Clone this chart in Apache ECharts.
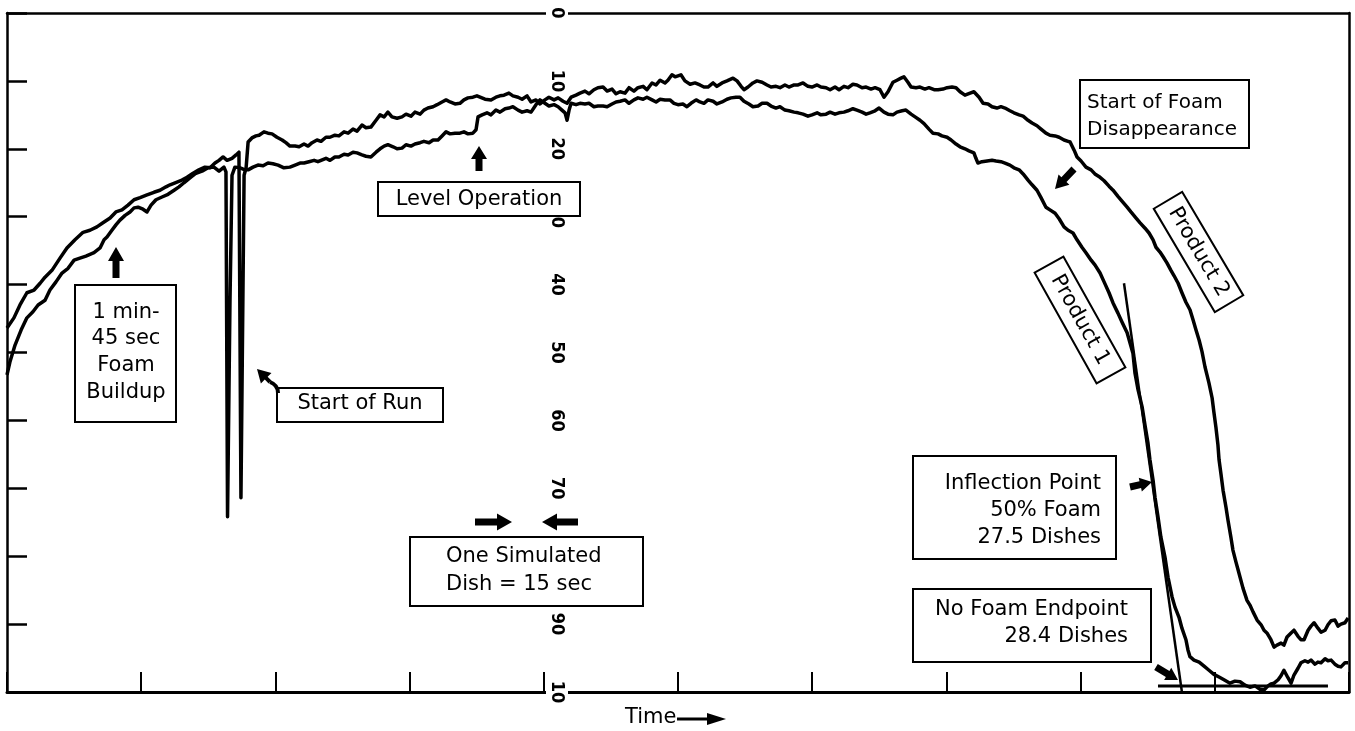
<!DOCTYPE html>
<html>
<head>
<meta charset="utf-8">
<script src="https://cdn.jsdelivr.net/npm/echarts@6/dist/echarts.min.js"></script>
<style>
html,body{margin:0;padding:0;background:#fff;}
#chart{width:1355px;height:731px;}
</style>
</head>
<body>
<div id="chart"></div>
<script>
// Foam level (0 = top of scale, 100 = bottom) vs. time in seconds
const yTickLabels = ['0','10','20','30','40','50','60','70','80','90','10'];
const timeTickInterval = 60; // one chart division = 1 minute = 4 dishes

const product1 = [
[0,53.3],[1.3,51.4],[3.6,48.9],[6.3,46.7],[8.9,44.9],[11.6,44.0],[13.9,43.0],[17.0,42.3],[19.2,40.8],[21.9,39.6],
[24.6,38.3],[27.3,37.6],[30.0,36.4],[32.6,36.1],[35.3,35.8],[38.9,35.3],[41.6,34.6],[43.4,33.4],[44.7,33.0],[46.9,32.0],
[48.7,31.2],[50.5,30.5],[52.8,29.8],[55.0,29.3],[56.8,28.7],[58.6,28.6],[60.8,28.9],[62.6,29.3],[64.4,28.3],[66.6,27.5],
[69.3,27.1],[72.0,26.7],[74.7,26.1],[76.9,25.6],[79.1,25.0],[81.8,24.3],[84.5,23.6],[87.2,23.3],[89.9,22.8],[92.5,22.7],
[94.8,23.3],[97.0,22.7],[97.9,23.4],[98.6,74.2],[99.7,42.3],[100.6,23.9],[101.9,22.7],[104.2,22.8],[106.4,23.1],[107.8,23.1],
[110.0,22.7],[112.2,22.4],[114.5,22.5],[116.7,22.1],[118.9,22.2],[121.2,22.4],[123.8,22.8],[126.5,22.7],[128.8,22.4],[131.0,22.1],
[132.8,22.1],[135.0,21.9],[137.3,21.7],[139.0,21.9],[140.4,21.7],[142.6,21.4],[144.4,21.7],[146.6,21.2],[148.4,21.2],[150.7,20.8],
[152.5,20.9],[154.7,20.5],[156.5,20.6],[158.7,20.9],[160.5,21.1],[162.7,21.2],[165.0,20.5],[166.8,20.0],[168.6,19.6],[170.3,19.4],
[172.6,19.7],[174.4,20.0],[176.6,19.9],[178.4,19.4],[180.6,19.6],[182.4,19.3],[184.7,19.1],[186.4,18.9],[188.7,19.1],[190.5,18.7],
[192.7,18.7],[194.5,18.1],[196.3,17.5],[198.1,17.8],[200.3,17.7],[202.5,17.7],[204.3,17.5],[206.1,17.8],[208.3,17.7],[209.7,17.2],
[210.6,15.3],[212.4,15.0],[214.6,14.7],[216.4,15.0],[218.6,14.3],[220.4,14.6],[222.7,14.1],[224.4,14.0],[226.2,13.8],[228.5,14.3],
[230.3,14.6],[232.5,14.4],[234.3,14.6],[236.5,13.5],[238.3,12.8],[240.5,13.3],[242.3,13.7],[244.6,13.5],[246.4,13.8],[248.1,14.3],
[249.5,14.7],[250.4,15.8],[251.3,14.3],[252.2,13.3],[254.4,13.5],[256.2,13.3],[258.4,13.4],[260.2,13.3],[262.4,13.8],[264.2,13.7],
[266.5,13.7],[268.3,13.8],[270.5,13.4],[272.3,13.1],[274.1,13.0],[276.3,12.8],[278.1,13.3],[280.3,12.8],[282.1,12.5],[284.4,12.7],
[286.1,12.4],[288.4,12.8],[290.2,13.1],[292.0,12.7],[294.2,12.8],[296.4,12.8],[298.2,13.3],[300.0,13.5],[302.2,13.4],[304.0,13.8],
[305.8,13.3],[308.1,12.8],[309.8,13.1],[311.6,13.3],[313.4,12.8],[315.7,13.0],[317.4,13.4],[319.7,13.1],[321.9,12.7],[323.7,12.5],
[325.9,12.4],[327.7,12.4],[329.5,13.0],[331.7,13.4],[333.5,13.8],[335.8,13.7],[337.6,13.3],[339.8,13.3],[341.6,13.7],[343.8,14.0],
[345.6,13.8],[347.8,14.3],[349.6,14.4],[351.9,14.6],[353.7,14.7],[355.9,14.9],[358.1,15.2],[359.9,15.0],[362.2,14.7],[363.9,15.0],
[366.2,14.9],[368.0,14.6],[370.2,14.9],[372.0,14.7],[374.2,14.6],[376.0,14.4],[378.2,14.1],[380.0,14.3],[382.3,14.6],[384.1,14.9],
[385.8,14.7],[388.1,14.4],[389.9,14.0],[392.1,14.6],[393.9,14.9],[396.1,15.0],[397.9,14.6],[400.2,14.4],[401.9,14.3],[404.2,14.9],
[406.0,15.3],[408.2,15.8],[410.0,16.3],[412.2,17.1],[414.0,17.7],[416.3,17.8],[418.0,18.1],[420.3,18.3],[422.1,18.7],[424.3,19.3],
[426.1,19.7],[428.3,20.0],[430.1,20.3],[432.3,20.6],[433.2,21.4],[434.1,22.1],[435.9,21.9],[438.2,21.8],[440.4,21.7],[442.2,21.8],
[444.4,21.9],[446.2,22.1],[448.4,22.4],[450.2,22.8],[452.5,23.1],[454.3,23.7],[456.5,24.6],[458.3,25.3],[460.5,26.1],[462.3,27.2],
[464.5,28.6],[466.3,29.0],[468.6,29.5],[470.4,30.3],[472.6,31.5],[474.4,32.0],[476.6,32.4],[478.4,33.4],[480.6,34.5],[482.4,35.3],
[484.7,36.4],[486.4,37.1],[488.7,38.3],[490.5,39.6],[492.7,41.2],[494.5,42.7],[496.7,44.2],[498.5,45.5],[500.8,47.1],[502.1,48.6],
[503.4,50.1],[504.3,53.0],[505.7,55.5],[507.5,58.0],[508.8,60.7],[510.1,63.3],[511.0,65.8],[512.4,68.8],[513.3,71.4],[514.6,74.2],
[515.9,77.2],[517.7,80.1],[519.1,83.1],[520.9,86.0],[522.2,87.5],[524.0,89.0],[525.3,90.6],[527.1,92.3],[528.0,93.8],[528.9,94.8],
[530.7,95.3],[533.0,95.6],[535.2,96.2],[537.4,96.8],[539.6,97.4],[541.9,97.8],[544.1,98.2],[546.8,98.7],[549.0,98.4],[551.3,98.5],
[553.5,99.0],[555.7,99.3],[558.0,99.1],[560.2,99.6],[562.0,99.7],[563.8,99.1],[565.1,98.8],[566.5,98.7],[568.3,98.2],[569.6,97.6],
[570.9,96.8],[572.7,97.9],[574.1,98.7],[575.4,97.5],[577.2,96.5],[578.5,95.7],[580.3,95.4],[581.7,95.6],[583.0,95.3],[584.8,95.9],
[586.1,95.6],[587.5,95.7],[589.3,95.1],[590.6,95.4],[592.0,95.3],[593.7,95.9],[595.1,96.2],[596.4,96.3],[598.2,95.7],[599.6,95.7]
];

const product2 = [
[0,46.4],[3.1,44.9],[5.8,43.0],[8.9,41.2],[12.1,40.8],[14.8,39.8],[17.0,38.9],[20.1,37.9],[23.7,36.1],[26.8,34.6],
[30.4,33.4],[34.0,32.3],[37.1,32.0],[40.2,31.5],[42.9,30.9],[46.1,30.2],[48.7,29.3],[51.4,29.0],[54.1,28.3],[56.8,27.5],
[59.5,27.2],[62.6,26.8],[65.7,26.4],[68.4,26.1],[71.1,25.6],[72.9,25.3],[76.0,24.9],[78.2,24.6],[80.5,24.2],[83.2,23.6],
[85.8,23.1],[88.5,22.7],[90.8,22.8],[93.0,22.1],[94.8,21.7],[96.6,21.2],[98.4,21.7],[100.6,21.4],[102.4,20.9],[103.7,20.5],
[104.6,71.4],[106.0,23.9],[106.9,22.8],[107.8,19.0],[109.5,18.4],[111.3,18.1],[112.7,18.0],[114.9,17.5],[116.7,17.7],[118.5,17.8],
[120.7,18.3],[123.0,18.7],[124.7,19.1],[126.5,19.6],[128.8,19.6],[130.6,19.7],[132.8,19.3],[134.6,19.6],[136.4,19.1],[138.6,18.7],
[140.4,18.9],[142.6,18.3],[144.4,18.3],[146.6,18.0],[148.4,18.1],[150.7,17.5],[152.5,17.7],[154.7,17.1],[156.5,17.4],[158.7,16.5],
[160.5,16.9],[162.7,16.8],[165.0,15.8],[166.8,15.0],[168.6,15.3],[170.3,14.6],[172.1,15.3],[174.4,15.5],[176.6,15.3],[178.4,14.9],
[180.6,15.2],[182.4,14.6],[184.7,14.9],[186.4,14.3],[188.2,14.0],[190.5,13.8],[192.3,13.5],[194.5,13.1],[196.3,12.8],[198.1,13.1],
[200.3,13.4],[202.5,13.3],[204.3,12.8],[206.1,12.5],[208.3,12.4],[210.1,12.2],[211.5,12.4],[213.7,12.7],[216.4,12.8],[218.6,12.4],
[220.4,12.2],[222.2,12.1],[224.4,11.8],[226.2,12.2],[228.5,12.4],[230.3,12.7],[232.5,12.2],[234.3,13.1],[236.5,12.8],[238.3,13.4],
[240.5,12.8],[242.3,12.4],[244.6,12.8],[246.4,12.5],[248.6,13.0],[250.4,13.3],[252.2,12.4],[254.4,12.1],[256.2,11.8],[258.4,11.5],
[260.2,11.9],[262.4,11.3],[264.2,11.0],[266.5,10.9],[268.3,11.5],[270.5,11.2],[272.3,11.9],[274.1,11.6],[276.3,11.8],[278.1,11.0],
[280.3,11.5],[282.1,11.0],[284.4,10.8],[286.1,11.3],[288.4,10.3],[290.2,10.6],[292.0,9.9],[294.2,10.3],[295.5,9.9],[297.3,9.1],
[298.7,9.4],[301.3,9.1],[303.1,10.0],[305.4,10.5],[307.6,10.3],[309.8,10.6],[311.6,10.9],[313.4,10.9],[315.7,10.3],[317.4,10.8],
[319.7,10.3],[321.9,10.0],[324.6,9.6],[326.4,10.0],[328.2,10.8],[329.5,11.3],[331.3,10.9],[333.5,10.3],[335.3,10.0],[337.6,10.2],
[339.8,10.6],[341.6,10.9],[343.8,10.8],[345.6,11.0],[347.8,10.6],[349.6,10.9],[351.9,10.6],[353.7,10.6],[355.9,10.3],[358.1,10.8],
[359.9,10.9],[362.2,10.6],[363.9,10.9],[366.2,11.0],[368.0,11.3],[370.2,10.9],[372.0,11.3],[374.2,10.8],[376.0,11.0],[378.2,10.5],
[380.0,10.6],[382.3,11.0],[384.1,10.9],[386.3,11.2],[388.1,11.0],[390.3,11.3],[392.1,12.4],[393.9,11.6],[396.1,10.2],[397.9,9.9],
[399.7,9.6],[401.0,9.4],[402.8,10.2],[404.2,10.9],[406.4,11.0],[408.2,10.9],[410.4,11.2],[412.2,11.0],[414.5,11.3],[416.3,11.3],
[418.5,11.2],[420.3,11.0],[422.5,10.9],[424.3,11.0],[426.1,11.6],[428.3,12.1],[430.6,11.8],[432.3,11.6],[434.6,12.4],[436.4,13.3],
[438.6,13.4],[440.4,13.8],[442.6,14.0],[444.4,13.8],[446.2,14.0],[448.4,14.4],[450.2,14.7],[452.5,15.0],[454.3,15.2],[456.5,15.8],
[458.3,16.2],[460.5,16.6],[462.3,17.1],[464.5,17.7],[466.3,18.0],[468.6,18.1],[470.4,18.3],[472.6,18.7],[474.4,18.9],[475.3,19.0],
[477.1,20.2],[478.4,21.2],[480.2,21.8],[482.4,22.7],[484.7,23.1],[486.4,23.7],[488.7,24.2],[490.5,24.7],[492.7,25.5],[494.5,26.1],
[496.7,27.0],[498.5,27.7],[500.8,28.6],[502.5,29.3],[504.8,30.2],[506.6,30.9],[508.8,31.7],[510.6,32.4],[512.4,33.4],[513.7,34.5],
[515.5,35.2],[516.9,35.9],[518.6,36.8],[520.4,37.9],[521.8,38.7],[523.6,39.8],[525.3,41.2],[527.1,42.6],[528.9,43.7],[530.3,45.2],
[531.6,46.7],[533.0,48.2],[534.3,49.9],[535.6,52.1],[536.5,53.3],[537.4,54.5],[538.8,56.7],[539.6,58.8],[540.5,61.0],[541.4,63.6],
[541.9,65.8],[542.8,68.0],[543.7,70.3],[545.0,72.8],[545.9,74.7],[547.2,77.2],[548.1,79.1],[549.5,80.9],[550.4,82.0],[551.3,83.1],
[552.6,84.7],[554.4,86.5],[555.7,87.2],[557.1,88.2],[558.9,89.4],[560.7,90.1],[562.0,90.9],[563.3,91.3],[565.1,92.3],[566.5,93.4],
[567.8,93.1],[569.6,92.8],[570.9,93.1],[572.3,91.9],[574.1,91.3],[575.4,90.9],[577.2,91.8],[578.5,92.3],[579.9,92.3],[581.7,90.9],
[583.0,90.3],[584.4,89.8],[586.1,90.6],[587.5,91.2],[589.3,90.9],[590.6,90.1],[592.0,89.5],[593.7,89.4],[595.1,90.3],[596.4,90.0],
[598.2,89.8],[599.6,89.1]
];

// Constructions drawn on the Product 1 trace
const inflectionTangent = [[499.4,39.8],[525.3,100.0]];
const noFoamBaseline = [[514.6,99.1],[590.6,99.1]];

const FONT = '21px "DejaVu Sans"';
const FONT_SM = '20px "DejaVu Sans"';
const INK = '#000';

function arrowPts(tail, tip, headLen, headW, shaftW) {
  const dx = tip[0]-tail[0], dy = tip[1]-tail[1];
  const L = Math.hypot(dx,dy), ux = dx/L, uy = dy/L, nx = -uy, ny = ux;
  const bx = tip[0]-ux*headLen, by = tip[1]-uy*headLen;
  return [
    [tail[0]+nx*shaftW/2, tail[1]+ny*shaftW/2],
    [bx+nx*shaftW/2, by+ny*shaftW/2],
    [bx+nx*headW/2, by+ny*headW/2],
    tip,
    [bx-nx*headW/2, by-ny*headW/2],
    [bx-nx*shaftW/2, by-ny*shaftW/2],
    [tail[0]-nx*shaftW/2, tail[1]-ny*shaftW/2]
  ];
}
function arrow(tail, tip, hl, hw, sw) {
  return {type:'polygon', z:100, shape:{points:arrowPts(tail, tip, hl||13, hw||15, sw||6)}, style:{fill:INK}};
}
function box(x, y, w, h) {
  return {type:'rect', z:100, shape:{x:x, y:y, width:w, height:h}, style:{fill:'#fff', stroke:INK, lineWidth:2}};
}
function txt(t, x, y, align, font) {
  return {type:'text', z:101, style:{text:t, x:x, y:y, font:font||FONT, fill:INK,
    textAlign:align||'center', textVerticalAlign:'middle', align:align||'center', verticalAlign:'middle'}};
}
function rotBox(cx, cy, w, h, deg, t) {
  return {type:'group', x:cx, y:cy, rotation:-deg*Math.PI/180, z:100, children:[
    {type:'rect', z:100, shape:{x:-w/2, y:-h/2, width:w, height:h}, style:{fill:'#fff', stroke:INK, lineWidth:2}},
    {type:'text', z:101, style:{text:t, x:0, y:0, font:FONT, fill:INK, textAlign:'center', textVerticalAlign:'middle', align:'center', verticalAlign:'middle'}}
  ]};
}

const chart = echarts.init(document.getElementById('chart'), null, {renderer:'canvas'});
const lineBase = {type:'line', showSymbol:false, symbol:'none', animation:false, silent:true, z:3};

chart.setOption({
  animation:false,
  backgroundColor:'#fff',
  grid:{left:7, right:6, top:13, bottom:39, containLabel:false},
  xAxis:[
    {type:'value', min:0, max:600, interval:timeTickInterval, position:'bottom', z:2,
     axisLine:{show:true, onZero:false, lineStyle:{color:INK, width:3}},
     axisTick:{show:true, inside:true, length:20, lineStyle:{color:INK, width:2}},
     axisLabel:{show:false}, splitLine:{show:false}},
    {type:'value', min:0, max:600, position:'top', z:2,
     axisLine:{show:true, onZero:false, lineStyle:{color:INK, width:2.5}},
     axisTick:{show:false}, axisLabel:{show:false}, splitLine:{show:false}}
  ],
  yAxis:[
    {type:'value', min:0, max:100, interval:10, inverse:true, position:'left', z:2,
     axisLine:{show:true, onZero:false, lineStyle:{color:INK, width:2.5}},
     axisTick:{show:true, inside:true, length:20, lineStyle:{color:INK, width:2.5}},
     axisLabel:{show:false}, splitLine:{show:false}},
    {type:'value', min:0, max:100, interval:10, inverse:true, position:'right', z:2,
     axisLine:{show:true, onZero:false, lineStyle:{color:INK, width:2.5}},
     axisTick:{show:false}, axisLabel:{show:false}, splitLine:{show:false}},
    {type:'value', min:0, max:100, interval:10, inverse:true, position:'left', offset:-550, z:6,
     axisLine:{show:false}, axisTick:{show:false}, splitLine:{show:false},
     axisLabel:{show:true, rotate:-90, margin:0, align:'center', verticalAlign:'middle',
       showMinLabel:true, showMaxLabel:true,
       fontFamily:'"DejaVu Sans Condensed", "DejaVu Sans"', fontWeight:'bold', fontSize:18, color:INK,
       backgroundColor:'#fff', padding:[2,3],
       formatter:function(v){ return yTickLabels[Math.round(v/10)]; }}}
  ],
  series:[
    Object.assign({}, lineBase, {name:'Product 1', data:product1, lineStyle:{color:INK, width:3.5, join:'round'}}),
    Object.assign({}, lineBase, {name:'Product 2', data:product2, lineStyle:{color:INK, width:3.5, join:'round'}}),
    Object.assign({}, lineBase, {name:'Tangent', data:inflectionTangent, lineStyle:{color:INK, width:2.5}}),
    Object.assign({}, lineBase, {name:'Baseline', data:noFoamBaseline, lineStyle:{color:INK, width:3}})
  ],
  graphic:[
    // Level Operation
    box(378,182,202,34), txt('Level Operation',479,200),
    arrow([479,171],[479,146],13,16,7),
    // Foam buildup
    box(75,285,101,137),
    txt('1 min-',126,313), txt('45 sec',126,339), txt('Foam',126,366), txt('Buildup',126,393),
    arrow([116,278],[116,247],14,16,7),
    // Start of Run
    box(277,388,166,34), txt('Start of Run',360,404),
    {type:'bezierCurve', z:100, shape:{x1:278, y1:393, x2:270, y2:382, cpx1:278, cpy1:385}, style:{stroke:INK, lineWidth:4, fill:null}},
    arrow([270,382],[257,369],13,15,4),
    // One simulated dish
    arrow([475,522],[512,522],15,17,7), arrow([578,522],[542,522],15,17,7),
    box(410,537,233,69), txt('One Simulated',446,557,'left'), txt('Dish = 15 sec',446,585,'left'),
    // Start of foam disappearance
    box(1080,80,169,68), txt('Start of Foam',1087,103,'left',FONT_SM), txt('Disappearance',1087,130,'left',FONT_SM),
    arrow([1074,169],[1055,189],13,15,7),
    // Product labels
    rotBox(1198.5,252,120,33,59.4,'Product 2'),
    rotBox(1080,320,127,33,60.8,'Product 1'),
    // Inflection point
    box(913,456,203,103),
    txt('Inflection Point',1101,484,'right'), txt('50% Foam',1101,511,'right'), txt('27.5 Dishes',1101,538,'right'),
    arrow([1130,487],[1152,482],12,14,7),
    // No foam endpoint
    box(913,589,238,73),
    txt('No Foam Endpoint',1128,610,'right'), txt('28.4 Dishes',1128,637,'right'),
    arrow([1156,667],[1178,680],12,14,7),
    // Time axis caption
    txt('Time',625,718,'left'),
    {type:'line', z:100, shape:{x1:677, y1:719, x2:714, y2:719}, style:{stroke:INK, lineWidth:3}},
    {type:'polygon', z:100, shape:{points:[[707,713],[726,719],[707,725]]}, style:{fill:INK}}
  ]
});
</script>
</body>
</html>
